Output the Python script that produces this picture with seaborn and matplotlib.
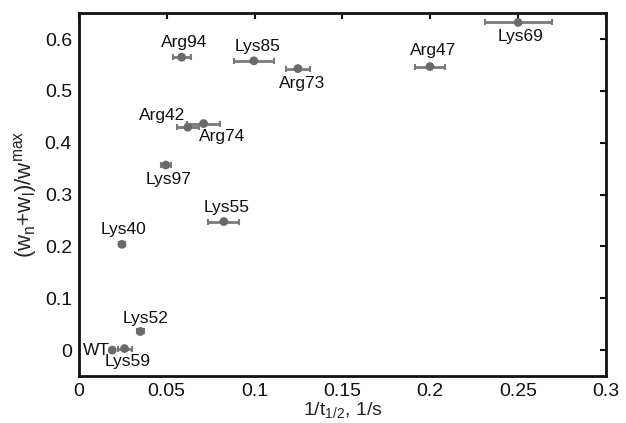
import matplotlib
matplotlib.use("Agg")
import matplotlib.pyplot as plt
import seaborn as sns
import pandas as pd

names = ["WT", "Lys59", "Lys52", "Lys40", "Lys55", "Lys97", "Arg42", "Arg74",
         "Arg94", "Lys85", "Arg73", "Arg47", "Lys69"]
inv_half_life = [0.019, 0.026, 0.035, 0.0245, 0.0825, 0.0495, 0.062, 0.071,
                 0.0585, 0.0996, 0.1247, 0.1998, 0.250]
x_err = [0.0, 0.004, 0.002, 0.0015, 0.0088, 0.003, 0.0063, 0.0096,
         0.0052, 0.0115, 0.0066, 0.0083, 0.019]
weight_frac = [0.0, 0.003, 0.036, 0.204, 0.248, 0.357, 0.430, 0.437,
               0.565, 0.558, 0.543, 0.547, 0.632]
x_ticks = [0, 0.05, 0.1, 0.15, 0.2, 0.25, 0.3]
y_ticks = [0, 0.1, 0.2, 0.3, 0.4, 0.5, 0.6]

# label offsets in points (style only)
label_offsets = {
    "WT": (-2, 0, "right", "center"),
    "Lys59": (2, -4, "center", "top"),
    "Lys52": (4, 4, "center", "bottom"),
    "Lys40": (1, 5, "center", "bottom"),
    "Lys55": (2, 5, "center", "bottom"),
    "Lys97": (2, -5, "center", "top"),
    "Arg42": (-2, 3, "right", "bottom"),
    "Arg74": (-3, -4, "left", "top"),
    "Arg94": (2, 5, "center", "bottom"),
    "Lys85": (3, 5, "center", "bottom"),
    "Arg73": (3, -5, "center", "top"),
    "Arg47": (2, 6, "center", "bottom"),
    "Lys69": (2, -5, "center", "top"),
}

sns.set_style("white")
plt.rcParams["font.family"] = ["Liberation Sans", "DejaVu Sans"]
plt.rcParams["mathtext.fontset"] = "custom"
plt.rcParams["mathtext.rm"] = "Liberation Sans"
plt.rcParams["mathtext.it"] = "Liberation Sans"

df = pd.DataFrame({"name": names, "x": inv_half_life, "xerr": x_err, "y": weight_frac})

fig = plt.figure(figsize=(6.26, 4.23), dpi=100)
ax = fig.add_axes([0.126, 0.111, 0.842, 0.858])

ax.errorbar(df["x"], df["y"], xerr=df["xerr"], fmt="none", ecolor="#7a7a7a",
            elinewidth=2, capsize=2, capthick=1.5, zorder=2)
sns.scatterplot(data=df, x="x", y="y", ax=ax, color="#6a6a6a", s=40,
                edgecolor="none", zorder=3, legend=False)

for n, xv, yv in zip(names, inv_half_life, weight_frac):
    dx, dy, ha, va = label_offsets[n]
    ax.annotate(n, (xv, yv), xytext=(dx, dy), textcoords="offset points",
                ha=ha, va=va, fontsize=12.5, color="#111111")

ax.set_xlim(0, 0.3)
ax.set_ylim(-0.05, 0.65)
ax.set_xticks(x_ticks)
ax.set_xticklabels([f"{t:g}" for t in x_ticks])
ax.set_yticks(y_ticks)
ax.set_yticklabels([f"{t:g}" for t in y_ticks])
ax.tick_params(direction="in", length=4, width=1.5, labelsize=14, colors="#111111",
               top=True, right=True, pad=5)
for s in ax.spines.values():
    s.set_linewidth(2)
    s.set_color("#111111")
    s.set_visible(True)

ax.set_xlabel(r"1/t$_{1/2}$, 1/s", fontsize=14, labelpad=0)
ax.set_ylabel(r"(w$_\mathregular{n}$+w$_\mathregular{l}$)/w$^\mathregular{max}$", fontsize=16, labelpad=4)

fig.savefig("out.png", dpi=100)
